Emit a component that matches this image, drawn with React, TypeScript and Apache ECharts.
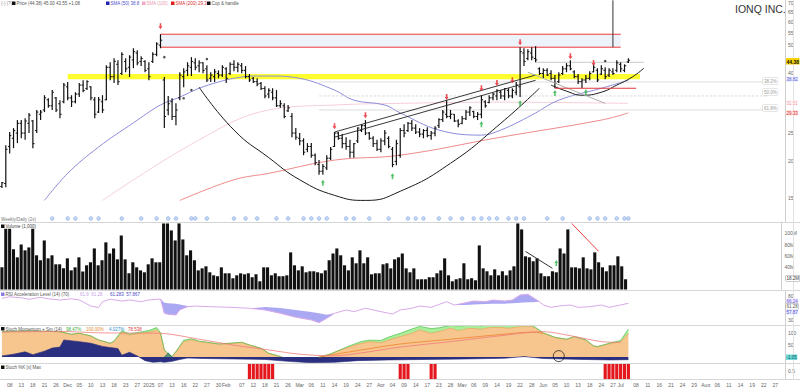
import React, { useEffect, useRef } from "react";
import * as echarts from "echarts";

// ---------- calendar (categories) ----------
const START_DATE = "2024-11-06";
const END_DATE = "2025-08-29";
const HOLIDAYS = ["2024-11-28", "2024-12-25", "2025-01-01", "2025-01-09", "2025-01-20", "2025-02-17", "2025-04-18", "2025-05-26", "2025-06-19", "2025-07-04"];
const MONTH_NAMES = ["Jan", "Feb", "Mar", "Apr", "May", "Jun", "Jul", "Aug", "Sep", "Oct", "Nov", "Dec"];

function buildTradingDays(): string[] {
  const out: string[] = [];
  const d = new Date(START_DATE + "T00:00:00Z");
  const end = new Date(END_DATE + "T00:00:00Z");
  while (d <= end) {
    const wd = d.getUTCDay();
    const s = d.toISOString().slice(0, 10);
    if (wd !== 0 && wd !== 6 && HOLIDAYS.indexOf(s) < 0) out.push(s);
    d.setUTCDate(d.getUTCDate() + 1);
  }
  return out;
}
const DATES = buildTradingDays();

// ---------- price bars ----------
const HIGH = [17.0,22.7,25.2,26.0,27.7,27.7,28.1,29.3,27.7,30.0,
 30.0,33.7,32.9,35.1,33.2,32.4,37.1,37.4,33.7,34.5,
 37.1,37.9,37.9,36.2,33.2,33.2,33.7,42.7,43.7,45.1,
 44.4,47.3,45.1,46.2,48.8,48.0,45.8,44.4,43.7,47.3,
 51.2,54.5,38.9,33.5,32.9,31.6,40.4,41.7,43.7,45.5,
 45.1,44.4,43.7,42.7,40.4,41.4,41.0,42.7,42.0,43.7,
 44.4,43.7,43.4,42.4,39.8,38.9,38.5,37.4,36.2,35.6,
 35.6,35.1,32.4,31.6,31.2,29.3,26.0,25.0,24.0,23.1,
 23.1,21.3,20.2,19.6,21.0,22.4,25.2,25.2,24.8,24.2,
 23.7,23.1,26.2,26.8,27.7,25.2,24.4,23.7,24.0,25.6,
 24.4,22.4,23.7,26.0,26.8,27.3,27.7,26.8,26.0,25.8,
 26.2,25.4,26.4,28.1,30.0,32.4,30.0,29.0,27.9,28.6,
 30.0,30.9,29.8,29.5,33.7,32.4,33.7,34.3,35.3,35.1,
 35.6,35.6,35.6,37.4,49.2,48.8,48.4,49.2,49.6,42.0,
 41.7,41.7,41.0,39.5,40.4,42.4,43.4,44.4,41.0,39.8,
 38.5,39.5,40.7,43.0,41.7,42.7,42.0,41.7,41.7,44.4,
 43.7,43.0,45.1];
const LOW = [16.2,16.3,21.3,22.2,23.1,24.0,23.7,25.0,22.2,25.0,
 27.7,29.5,30.5,30.0,29.5,28.1,31.6,32.4,30.7,31.6,
 33.2,34.5,35.1,32.4,28.1,29.3,29.3,32.4,37.9,37.1,
 36.5,39.5,40.4,38.9,41.7,42.7,42.4,40.4,37.9,43.4,
 45.8,48.8,26.0,28.8,27.7,26.6,32.4,35.9,39.2,39.2,
 41.0,40.4,40.1,37.4,37.4,37.4,38.5,38.9,37.1,39.5,
 40.7,40.4,40.1,38.5,37.4,37.1,36.2,35.1,32.9,32.9,
 32.4,30.7,30.5,28.1,29.5,24.2,23.7,22.7,21.0,21.5,
 20.6,19.4,18.0,18.0,18.7,20.2,22.4,23.7,22.2,21.9,
 20.6,20.6,23.1,25.2,24.6,23.7,22.4,21.7,21.5,22.7,
 22.2,19.1,19.4,20.6,24.2,25.2,25.4,24.8,24.2,24.0,
 24.2,23.7,24.4,26.0,27.3,28.1,27.9,27.3,26.2,26.8,
 27.7,28.6,28.1,27.7,28.1,30.5,31.6,32.4,32.4,32.7,
 32.4,32.9,32.9,33.7,33.2,42.4,44.4,44.4,43.7,39.5,
 38.5,39.2,37.9,35.6,37.1,39.5,40.4,41.0,38.5,36.8,
 35.6,37.1,37.9,40.4,37.4,39.5,38.2,38.9,39.5,40.4,
 40.4,40.4,43.4];
const OPEN = [16.4,16.8,22.5,24.0,25.0,27.0,25.0,27.0,27.5,25.5,
 29.0,30.0,32.5,31.0,33.0,31.5,32.0,36.0,33.0,32.0,
 34.0,36.5,35.5,36.0,32.5,29.5,32.0,32.5,42.0,39.0,
 43.0,40.0,44.0,42.0,44.5,47.0,44.0,44.0,41.5,44.0,
 46.5,50.0,38.0,30.0,32.0,28.5,33.0,39.0,41.0,42.0,
 43.5,42.5,43.5,41.5,38.5,39.0,40.0,39.5,41.5,40.0,
 43.0,42.0,42.5,41.0,39.0,38.5,37.5,37.0,35.5,34.0,
 34.5,33.0,31.0,31.0,29.8,28.5,25.0,24.0,23.5,22.0,
 22.5,21.0,19.5,18.5,19.0,20.5,22.5,25.0,24.0,23.0,
 22.5,21.5,23.5,25.5,26.5,25.0,24.0,23.0,22.0,23.5,
 24.0,22.0,20.0,21.0,25.5,25.5,27.0,26.0,25.2,24.8,
 25.5,24.5,25.0,26.5,27.8,29.0,28.5,29.0,27.5,27.0,
 28.0,29.5,29.6,28.5,29.0,32.0,31.8,33.0,33.5,34.5,
 33.5,35.0,33.5,34.5,36.0,47.0,45.0,47.0,45.0,41.5,
 40.0,41.0,40.0,38.5,37.5,40.0,41.5,42.5,40.5,39.0,
 37.5,38.0,38.5,40.5,41.0,39.8,41.0,39.5,40.5,41.0,
 43.0,41.0,43.8];
const CLOSE = [16.9,22.0,24.5,25.5,27.0,25.0,27.5,28.8,23.0,29.5,
 29.5,33.0,31.0,34.5,30.0,29.0,36.5,33.0,32.0,34.0,
 36.5,35.0,37.5,33.0,29.0,32.5,30.0,42.0,39.0,44.0,
 37.5,46.5,41.5,45.5,47.5,43.5,45.0,41.0,39.0,46.5,
 50.5,52.0,28.5,31.5,28.5,30.0,39.5,40.5,42.5,44.0,
 42.0,43.5,41.0,38.0,39.5,40.5,39.5,42.0,38.5,43.0,
 42.0,43.0,41.0,39.0,38.0,37.5,36.8,35.5,33.5,35.0,
 33.0,31.0,31.5,28.5,30.5,25.0,24.2,23.5,21.5,22.5,
 21.0,19.8,18.5,19.2,20.5,22.0,25.0,24.0,23.0,22.5,
 21.5,23.0,26.0,26.5,25.0,24.0,23.0,22.0,23.5,25.0,
 22.5,19.5,23.0,25.5,25.0,27.0,26.0,25.2,24.8,25.5,
 24.5,25.0,26.0,27.8,29.5,28.5,29.0,27.5,26.8,28.0,
 29.5,30.5,28.5,29.0,32.5,31.0,33.0,34.0,35.0,33.5,
 35.5,33.5,35.0,36.5,47.5,44.0,47.5,45.5,44.5,40.0,
 41.0,39.5,38.5,37.0,39.5,41.5,42.5,41.5,39.0,37.5,
 38.0,38.5,40.0,42.0,38.0,41.5,39.0,41.0,40.0,43.5,
 41.5,42.5,44.38];

// volume, millions
const VOLUME = [39.4,108,108,71.4,57.2,80,69.6,74.8,108,60.8,
 52,87.2,55.4,60.8,44.8,44.8,37.6,55.4,34,39.4,
 57.2,32,43,48.4,73,43,52,83.8,64,73,
 53.6,96,53.6,28.8,48.4,39.4,34,30.6,44.8,55.4,
 48.4,48.4,117.4,117.4,105,87.2,117.4,89,60.8,69.6,
 52,34,37.6,41.2,30.6,25.2,23.6,39.4,28.8,28.8,
 20,25.2,28.8,27,28.8,21.8,27,14.6,39.4,39.4,
 25.2,28.8,23.6,23.6,25.2,66,43,34,41.2,30.6,
 32.4,32.4,30.6,28.8,34,52,64,73,60.8,43,
 34,57.2,46.6,69.6,46.6,57.2,27,28.8,28.8,44.8,
 46.6,37.6,53.6,57.2,64,37.6,30.6,37.6,18.2,18.2,
 18.2,21.8,21.8,28.8,34,55.4,25.2,14.6,18.2,20,
 46.6,18.2,20,16.4,78.4,37.6,32.4,25.2,35.8,25.2,
 32.4,25.2,34,41.2,117.4,106.8,59,57.2,50.2,55.4,
 28.8,23.6,23.6,32.4,30.6,73,64,106.8,39.4,39.4,
 37.6,57.2,37.6,35.8,66,48.4,39.4,32.4,43,43,
 59,41.2,18.2];

// moving averages: [barIndex, price]
const SMA50 = [[11,14.7],[17,18.2],[25,22.4],[34,27.1],[41,31.2],[46,33.2],[51,35.6],[56,37.4],[60,38.5],[65,39.2],[69,39.2],[77,38.5],[86,35.1],[91,32.4],[99,31.2],[103,29.3],[113,25.6],[124,24.6],[129,25.6],[137,28.8],[144,32.4],[155,35.6],[162,37.9]];
const SMA100 = [[26,14.7],[51,23.7],[69,30.0],[86,31.2],[103,31.6],[129,31.9],[162,31.6]];
const SMA200 = [[46,14.7],[60,17.3],[69,18.2],[86,20.2],[103,21.0],[129,24.2],[155,27.7],[162,29.3]];

// drawn annotations: [barIndex, price]
const CUP_BIG = [[51,35.9],[60,25.6],[69,20.6],[77,17.3],[86,15.3],[94,14.7],[103,15.8],[116,19.7],[129,27.0],[139,35.6]];
const CUP_SMALL = [[142,36.5],[146,34.8],[150,33.7],[155,34.5],[159,36.5],[163,38.9],[166,41.7]];
const CHANNEL_UP = [[86,25.2],[138,39.5]];
const CHANNEL_DN = [[86,24.2],[138,37.9]];
const GRAY_DIAG = [[136,40.4],[156,31.6]];
const RED_SUPPORT = [[143,35.6],[164,35.6]];
const GRAY_RES = [[138,43.7],[166,43.7]];
const RED_TOP = [[41,54.5],[160,54.5]];
const RED_BOTTOM = [[41,49.2],[160,49.2]];
const VERT_LINE = [[158,49.2],[158,71.2]];
const YELLOW_BAND = [17, 165, 38.2, 39.8];
const FIB_LEVELS = [37.4, 33.5, 30.0];
const FIB_FROM = 82, FIB_TO = 198;
const RED_MARKS = [[41,58.0],[86,26.4],[94,28.8],[115,33.2],[124,35.6],[128,37.1],[132,37.9],[134,51.2],[147,45.8],[153,43.4]];
const GREEN_MARKS = [[83,16.9],[101,17.8],[124,26.8],[134,31.6],[143,34.3],[151,34.5]];
const DOTS = [[42,45.5],[47,32.9],[49,35.1],[53,44.8],[156,44.1]];
const EVENT_IDX = [13,17,19,23,25,31,36,40,43,45,49,50,53,60,63,66,71,74,78,80,82,84,89,91,95,100,105,107,109,113,116,119,122,124,126,128,131,133,135,141,145,152,154,156,159,161,162];
const EVENT_LEVEL = 12.75;

// volume annotations
const VOL_BLACK = [[136,67.8],[143,37.6]];
const VOL_RED = [[148,117.4],[155,67.8]];
const VOL_GREEN = [[144,47]];

// RSI panel
const RSI_IDX = [0,2,5,7,10,12,15,18,20,23,25,26,28,31,33,36,38,41,42,43,45,46,48,50,54,59,64,68,72,76,80,82,84,86,89,91,94,98,101,103,106,108,111,115,117,120,122,125,127,130,132,134,136,137,139,140,142,144,147,149,152,155,157,160,162];
const RSI_VAL = [75,78,76,73,77,74,71.5,74,71.5,59,56,68,73,69.4,71.5,68,71.5,73.5,44,42,40.6,51,57.7,59,57.7,56.4,54.4,51,44,36,30.3,24.8,33.8,44,51,47.5,54.4,47.5,42.6,51,54.4,59,56.4,68,61,66,69.4,68,71.5,69.4,71.5,81.8,83.2,78.3,68,61.2,56.4,59,61.2,56.4,57.7,61.2,56.4,61.2,64.7];
const RSI_BAND = [75,78,76,73,77,74,71.5,74,71.5,59,56,68,73,69.4,71.5,68,71.5,73.5,66,65,64,62,59,59,57.7,56.4,54.4,57,55,51,47,44,41,44,51,47.5,54.4,47.5,42.6,51,54.4,59,56.4,68,61,61,62,63,64,64,65,66,67,67,68,61.2,56.4,59,61.2,56.4,57.7,61.2,56.4,61.2,64.7];

// Stochastic momentum panel
const ST_IDX = [0,7,15,18,20,23,25,28,29,31,33,36,38,40,41,42,43,44,45,46,47,49,51,54,56,59,62,64,67,69,72,74,77,80,82,85,87,90,93,95,98,100,103,106,108,111,113,116,118,121,124,126,129,131,134,137,138,140,143,146,148,151,153,154,157,160,162];
const ST_ORANGE = [107,110,107,96,100,89,72,58,65,103,93,100,104,114,100,30,13,2,23,44,65,72,65,60,55,58,62,51,37,16,2,-9,-9,-5,-1,13,27,44,58,65,60,72,86,100,114,100,107,121,111,121,117,124,125,121,128,128,121,100,83,75,86,72,47,44,55,65,100];
const ST_GREEN = [0,0,0,0,0,0,0,0,3,8,4,6,8,10,2,0,0,0,0,3,6,5,2,0,0,0,0,0,0,0,0,0,0,0,0,0,0,4,8,6,10,12,14,18,15,20,16,12,20,12,15,10,8,12,5,6,4,2,0,0,0,0,0,0,3,5,18];
const NAVY_IDX = [0,3,6,8,11,13,15,16,20,23,26,28,30,31,33,35,37,39,41,42,44,46,48,52,60,68,74,80,86,92,100,110,120,130,135,140,150,157,162];
const NAVY_VAL = [5,12,22,10,25,38,42,72,65,58,45,40,36,8,20,5,-15,-22,-20,-22,-18,-10,-4,-6,-8,-10,-18,-24,-22,-15,-12,-10,-8,-5,2,-6,-10,-12,-11];
const TEAL_SPIKE = [[42,0],[43,18],[44,0]];
const ST_DARK_ORANGE = [[82,0],[93,30],[103,55],[116,75],[129,95],[137,105],[140,100]];
const ST_RED = [[0,105],[15,108],[25,102],[41,100],[51,75],[60,50],[69,30],[77,12],[86,5],[94,20],[103,42],[116,65],[129,90],[140,107],[147,90],[155,65],[160,62]];
const ST_CIRCLE = [[144,4]];

// signal bars panel
const SIGNAL_IDX = [64,65,66,67,68,69,70,103,104,105,111,112,156,157,158,159,160,161,162];

// axis ticks
const PRICE_TICKS = [15,20,25,40,50,55,60,65,70];
const VOL_TICKS = [40,60,80,100];
const RSI_TICKS = [30,80];
const ST_TICKS = [50,100];

const FONT = '"Liberation Sans", Arial, sans-serif';

function isMonthStart(i: number) {
  return i > 0 && i < DATES.length && DATES[i].slice(5, 7) !== DATES[i - 1].slice(5, 7);
}
function showLabel(i: number) {
  if (isMonthStart(i)) return true;
  if ((i - 17) % 3 !== 0) return false;
  if (isMonthStart(i - 1) || isMonthStart(i + 1)) return false;
  return true;
}
function labelText(v: string, i: number) {
  if (isMonthStart(i)) {
    const m = +v.slice(5, 7);
    return m === 1 ? v.slice(0, 4) : MONTH_NAMES[m - 1];
  }
  return v.slice(8, 10);
}

const at = (pts: number[][]) => pts.map(([i, v]) => [DATES[i], v]);

function lineS(name: string, data: any[], color: string, width: number, grid: number, extra: any = {}) {
  return {
    name, type: "line", data, xAxisIndex: grid, yAxisIndex: grid,
    showSymbol: false, symbol: "none", silent: true,
    lineStyle: { color, width }, z: 6, ...extra,
  };
}

function buildOption(): any {
  const grids = [
    { left: 0, right: 15, top: 0, height: 222 },
    { left: 0, right: 15, top: 222, height: 67.5 },
    { left: 0, right: 15, top: 291, height: 34 },
    { left: 0, right: 15, top: 325, height: 38 },
    { left: 0, right: 15, top: 363, height: 16 },
  ];
  const xAxes = grids.map((_, g) => ({
    type: "category", gridIndex: g, data: DATES, boundaryGap: true,
    axisLine: { show: g === 4, lineStyle: { color: "#cccccc" } },
    axisTick: { show: false }, splitLine: { show: false },
    axisLabel: g === 4 ? {
      show: true, interval: (i: number) => showLabel(i), formatter: (v: string, i: number) => labelText(v, i),
      fontSize: 5, color: "#666", margin: 3, fontFamily: FONT,
    } : { show: false },
  }));
  const yBase = (g: number) => ({
    gridIndex: g, position: "right",
    axisLine: { show: true, lineStyle: { color: "#cfcfcf" } },
    axisTick: { show: false }, splitLine: { show: false },
  });
  const lab = { fontSize: 5, color: "#666", margin: 3, fontFamily: FONT };
  const yAxes = [
    { ...yBase(0), type: "log", logBase: 10, min: 12.4, max: 71.2,
      axisLabel: { ...lab, customValues: PRICE_TICKS, formatter: (v: number) => String(Math.round(v)) } },
    { ...yBase(1), type: "value", min: 0, max: 120,
      axisLabel: { ...lab, customValues: VOL_TICKS, formatter: (v: number) => v + "M" } },
    { ...yBase(2), type: "value", min: 20, max: 90,
      axisLabel: { ...lab, customValues: RSI_TICKS } },
    { ...yBase(3), type: "value", min: -25, max: 135,
      axisLabel: { ...lab, customValues: ST_TICKS } },
    { ...yBase(4), type: "value", min: 0, max: 1,
      axisLabel: { ...lab, customValues: [0.5] } },
  ];

  const ohlc = OPEN.map((o, i) => [i, o, HIGH[i], LOW[i], CLOSE[i]]);
  const rsiLow = RSI_IDX.map((i, k) => [DATES[i], Math.min(RSI_VAL[k], RSI_BAND[k])]);
  const rsiDiff = RSI_IDX.map((i, k) => [DATES[i], Math.abs(RSI_VAL[k] - RSI_BAND[k])]);

  const series: any[] = [
    lineS("redTop", at(RED_TOP), "#ef3b3b", 1, 0, {
      z: 1,
      markArea: {
        silent: true,
        data: [
          [{ xAxis: DATES[RED_TOP[0][0]], yAxis: RED_BOTTOM[0][1], itemStyle: { color: "#edf3fb" } },
           { xAxis: DATES[RED_TOP[1][0]], yAxis: RED_TOP[0][1] }],
          [{ xAxis: DATES[YELLOW_BAND[0]], yAxis: YELLOW_BAND[2], itemStyle: { color: "#ffff1a", opacity: 0.9 } },
           { xAxis: DATES[YELLOW_BAND[1]], yAxis: YELLOW_BAND[3] }],
        ],
      },
    }),
    lineS("redBottom", at(RED_BOTTOM), "#ef3b3b", 1, 0, { z: 2 }),
    lineS("sma100", at(SMA100), "#f6cfd6", 1, 0, { smooth: 0.4, z: 2 }),
    lineS("sma200", at(SMA200), "#f08a8a", 1, 0, { smooth: 0.4, z: 2 }),
    lineS("sma50", at(SMA50), "#8c8cdc", 1, 0, { smooth: 0.4, z: 2 }),
    ...FIB_LEVELS.map((lv, k) => lineS("fib" + k, [[DATES[FIB_FROM], lv], [DATES[FIB_TO], lv]], "#cfcfcf", 0.7, 0, { z: 2, lineStyle: { color: "#cfcfcf", width: 0.7, type: k === 1 ? "dashed" : "solid" } })),
    lineS("grayRes", at(GRAY_RES), "#c8c8c8", 1, 0, { z: 2 }),
    {
      name: "price", type: "custom", xAxisIndex: 0, yAxisIndex: 0, z: 5, silent: true,
      data: ohlc, encode: { x: 0, y: [1, 2, 3, 4] },
      renderItem: (params: any, api: any) => {
        const i = api.value(0);
        const pO = api.coord([i, api.value(1)]);
        const pH = api.coord([i, api.value(2)]);
        const pL = api.coord([i, api.value(3)]);
        const pC = api.coord([i, api.value(4)]);
        const x = pH[0];
        return {
          type: "group",
          children: [
            { type: "line", shape: { x1: x, y1: pH[1], x2: x, y2: pL[1] }, style: { stroke: "#111", lineWidth: 1.2 } },
            { type: "line", shape: { x1: x - 1.7, y1: pO[1], x2: x, y2: pO[1] }, style: { stroke: "#111", lineWidth: 1 } },
            { type: "line", shape: { x1: x, y1: pC[1], x2: x + 1.7, y2: pC[1] }, style: { stroke: "#111", lineWidth: 1 } },
          ],
        };
      },
    },
    lineS("cupBig", at(CUP_BIG), "#1a1a1a", 1, 0, { smooth: 0.5 }),
    lineS("cupSmall", at(CUP_SMALL), "#1a1a1a", 1, 0, { smooth: 0.5 }),
    lineS("chanUp", at(CHANNEL_UP), "#222", 0.9, 0),
    lineS("chanDn", at(CHANNEL_DN), "#222", 0.9, 0),
    lineS("grayDiag", at(GRAY_DIAG), "#b0b0b0", 1, 0),
    lineS("redSupport", at(RED_SUPPORT), "#e8343a", 1.2, 0),
    lineS("vert", at(VERT_LINE), "#333", 1, 0),
    {
      name: "redMarks", type: "scatter", xAxisIndex: 0, yAxisIndex: 0, z: 7, silent: true,
      data: at(RED_MARKS), symbol: "path://M3,0H7V6H10L5,12L0,6H3Z", symbolSize: [4, 6],
      itemStyle: { color: "#e8202a" },
    },
    {
      name: "greenMarks", type: "scatter", xAxisIndex: 0, yAxisIndex: 0, z: 7, silent: true,
      data: at(GREEN_MARKS), symbol: "path://M5,0L10,6H7V12H3V6H0Z", symbolSize: [4, 6],
      itemStyle: { color: "#2db34a" },
    },
    {
      name: "dots", type: "scatter", xAxisIndex: 0, yAxisIndex: 0, z: 7, silent: true,
      data: at(DOTS), symbol: "circle", symbolSize: 2.5, itemStyle: { color: "#222" },
    },
    {
      name: "events", type: "scatter", xAxisIndex: 0, yAxisIndex: 0, z: 7, silent: true,
      data: EVENT_IDX.map((i) => [DATES[i], EVENT_LEVEL]), symbol: "circle", symbolSize: 3.6,
      itemStyle: { color: "#b9cff2", borderColor: "#6f98dd", borderWidth: 0.7 },
    },
    {
      name: "volume", type: "bar", xAxisIndex: 1, yAxisIndex: 1, data: VOLUME, barWidth: "80%",
      itemStyle: { color: "#111" }, silent: true, z: 3,
    },
    lineS("volBlack", at(VOL_BLACK), "#333", 1, 1),
    lineS("volRed", at(VOL_RED), "#ef4040", 1, 1),
    {
      name: "volGreen", type: "scatter", xAxisIndex: 1, yAxisIndex: 1, z: 7, silent: true,
      data: at(VOL_GREEN), symbol: "path://M5,0L10,6H7V12H3V6H0Z", symbolSize: [4, 6], itemStyle: { color: "#2db34a" },
    },
    lineS("rsiBase", rsiLow, "transparent", 0, 2, { stack: "rsi", lineStyle: { width: 0, opacity: 0 }, z: 2 }),
    lineS("rsiFill", rsiDiff, "transparent", 0, 2, { stack: "rsi", lineStyle: { width: 0, opacity: 0 }, areaStyle: { color: "#a7a3f2", opacity: 0.95 }, z: 2 }),
    lineS("rsi", RSI_IDX.map((i, k) => [DATES[i], RSI_VAL[k]]), "#d9a9e8", 1, 2, { z: 3 }),
    lineS("stOrange", ST_IDX.map((i, k) => [DATES[i], ST_ORANGE[k]]), "#e9a55c", 0.8, 3, {
      stack: "st", stackStrategy: "all", areaStyle: { color: "#f7c68f", opacity: 1 }, z: 2,
    }),
    lineS("stGreen", ST_IDX.map((i, k) => [DATES[i], ST_GREEN[k]]), "#4cc04c", 0.7, 3, {
      stack: "st", stackStrategy: "all", areaStyle: { color: "#a9ee9a", opacity: 1 }, z: 2,
    }),
    lineS("stNavy", NAVY_IDX.map((i, k) => [DATES[i], NAVY_VAL[k]]), "#262a78", 0.6, 3, {
      areaStyle: { color: "#2b2f80", opacity: 1 }, z: 3,
    }),
    lineS("stTeal", at(TEAL_SPIKE), "#1d7a64", 0.6, 3, { areaStyle: { color: "#237e68" }, z: 3 }),
    lineS("stDarkOrange", at(ST_DARK_ORANGE), "#ee8a35", 0.9, 3, { smooth: 0.3, z: 4 }),
    lineS("stRed", at(ST_RED), "#f07b7b", 0.8, 3, { smooth: 0.3, z: 4 }),
    {
      name: "stCircle", type: "scatter", xAxisIndex: 3, yAxisIndex: 3, z: 8, silent: true,
      data: at(ST_CIRCLE), symbol: "circle", symbolSize: 11,
      itemStyle: { color: "rgba(0,0,0,0)", borderColor: "#111", borderWidth: 0.9 },
    },
    {
      name: "signal", type: "bar", xAxisIndex: 4, yAxisIndex: 4, silent: true,
      data: SIGNAL_IDX.map((i) => [DATES[i], 1]), barWidth: "82%",
      itemStyle: { color: "#e3171d" },
    },
  ];

  const txt = (x: number, y: number, text: string, fill: string, size = 5, extra: any = {}) => ({
    type: "text", x, y, z: 100, silent: true,
    style: { text, fill, font: `${size}px ${FONT}`, ...extra },
  });
  const box = (y: number, text: string, fill: string, bg: string, border?: string) => txt(786, y, text, fill, 4.5, {
    backgroundColor: bg, padding: [0.5, 0.5, 0, 0.5],
    ...(border ? { borderColor: border, borderWidth: 0.5 } : {}),
  });
  const sq = (x: number, y: number, color: string) => ({
    type: "rect", shape: { x, y, width: 3.5, height: 3.5 }, style: { fill: color }, z: 100, silent: true,
  });
  const hline = (y: number, color = "#d6d6d6") => ({
    type: "line", shape: { x1: 0, y1: y, x2: 800, y2: y }, style: { stroke: color, lineWidth: 1 }, z: 90, silent: true,
  });

  const graphic: any[] = [
    hline(222.5), hline(290.5), hline(325.5), hline(363.5), hline(379.5),
    { type: "line", shape: { x1: 793.5, y1: 0, x2: 793.5, y2: 380 }, style: { stroke: "#e2e2e2", lineWidth: 1 }, z: 90, silent: true },
    // top legend
    txt(1, 1, "(-) (?)", "#888", 4.5),
    sq(12, 1.5, "#111"), txt(16.5, 1, "Price (44.38) 45.00 43.55 +1.08", "#555", 4.5),
    sq(106, 1.5, "#2424b0"), txt(110.5, 1, "SMA (50) 38.8", "#5050c8", 4.5),
    sq(142, 1.5, "#f4a6c6"), txt(146.5, 1, "SMA (100)", "#e79aaa", 4.5),
    sq(171, 1.5, "#e02020"), txt(175.5, 1, "SMA (200) 29.3", "#e03030", 4.5),
    sq(207, 1.5, "#111"), txt(211.5, 1, "Cup & handle", "#555", 4.5),
    // title
    txt(735, 3, "IONQ INC.", "#333", 10.5),
    // right-hand value boxes
    txt(786, 58, "44.38", "#111", 5, { font: `bold 5px ${FONT}`, backgroundColor: "#f4d300", padding: [1, 0.5, 0.5, 0.5] }),
    box(76.5, "38.82", "#5a5ad2", "#eceeff"),
    box(100, "31.51", "#f0a0b0", "#fff5f7"),
    box(110, "29.33", "#e02020", "#ffe6e6"),
    box(275.5, "18.2M", "#333", "#fff", "#999"),
    box(298.5, "66.24", "#6a5ad8", "#efeaff"),
    box(303.8, "61.28", "#555", "#fff", "#aaa"),
    box(309.1, "57.87", "#4b4bd0", "#e8ecff"),
    box(354.5, "-1.05", "#0b5c5c", "#6fd8d8"),
    // fibonacci labels
    txt(763, 78, "38.2%", "#9a9a9a", 4.5, { backgroundColor: "#fff", borderColor: "#ccc", borderWidth: 0.5, padding: [0.5, 1] }),
    txt(763, 89, "50.0%", "#9a9a9a", 4.5, { backgroundColor: "#fff", borderColor: "#ccc", borderWidth: 0.5, padding: [0.5, 1] }),
    txt(763, 105, "61.8%", "#9a9a9a", 4.5, { backgroundColor: "#fff", borderColor: "#ccc", borderWidth: 0.5, padding: [0.5, 1] }),
    // panel headers
    txt(1, 217, "Weekly/Daily (2x)", "#777", 4.5),
    sq(1, 224.5, "#111"), txt(5.5, 224, "Volume (1,000)", "#444", 4.5),
    sq(1, 292.5, "#8c7ce0"), txt(5.5, 292, "RSI Acceleration Level (14) (70)", "#555", 4.5),
    txt(80, 292, "61.8  61.28", "#c7a0e8", 4.5), txt(110, 292, "61.283  57.867", "#4848c8", 4.5),
    sq(1, 327, "#111"), txt(5.5, 326.5, "Stoch Momentum + Sm (14)", "#555", 4.5),
    txt(66, 326.5, "98.47%", "#3aaa3a", 4.5), txt(86, 326.5, "100.00%", "#e08a30", 4.5),
    txt(109, 326.5, "4.027%", "#2d8fd0", 4.5), txt(128, 326.5, "78.538", "#e03a3a", 4.5),
    sq(1, 365.5, "#111"), txt(5.5, 365, "Stoch %K [x] Max", "#555", 4.5),
  ];

  return {
    animation: false,
    backgroundColor: "#ffffff",
    textStyle: { fontFamily: FONT },
    grid: grids,
    xAxis: xAxes,
    yAxis: yAxes,
    series,
    graphic,
  };
}

export default function App() {
  const ref = useRef<HTMLDivElement>(null);
  useEffect(() => {
    if (!ref.current) return;
    const chart = echarts.init(ref.current, null, { renderer: "svg" });
    chart.setOption(buildOption());
    return () => chart.dispose();
  }, []);
  return (
    <div
      ref={ref}
      style={{ position: "absolute", left: 0, top: 0, width: 800, height: 387, background: "#fff" }}
    />
  );
}
